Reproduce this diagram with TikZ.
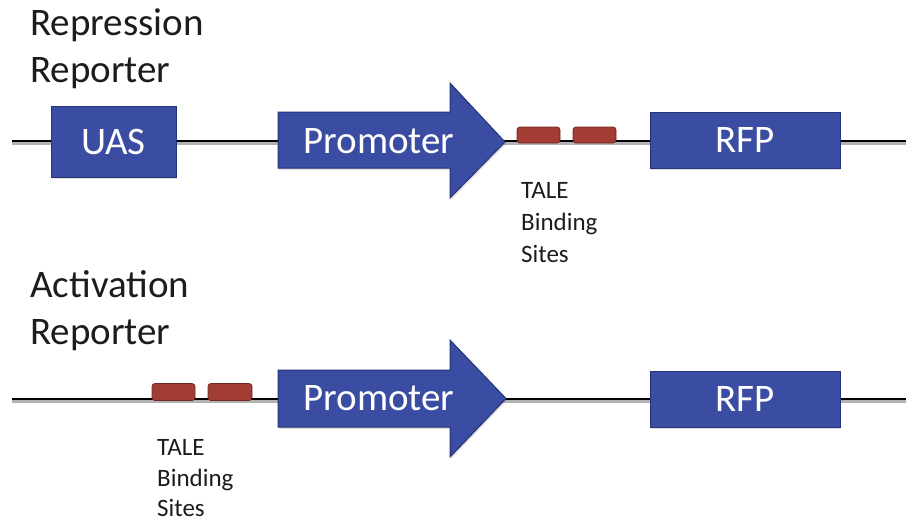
\documentclass[tikz,border=0pt]{standalone}
\usepackage{fontspec}
\setmainfont{Carlito}
\usetikzlibrary{shadows}
\definecolor{geneblue}{RGB}{58,77,163}
\definecolor{geneedge}{RGB}{36,50,118}
\definecolor{sitered}{RGB}{163,60,50}
\definecolor{siteedge}{RGB}{112,40,34}
\definecolor{titlegray}{RGB}{28,28,28}
\tikzset{
  dna/.style={line width=2.6pt, black},
  dnashade/.style={line width=2.4pt, black!30},
  genebox/.style={draw=geneedge, line width=1pt, fill=geneblue, inner sep=0pt,
    drop shadow={shadow xshift=1pt, shadow yshift=-2pt, opacity=0.25}},
  genelabel/.style={text=white, font=\fontsize{39}{47}\selectfont, inner sep=0pt},
  sitebox/.style={draw=siteedge, line width=0.8pt, fill=sitered, rounded corners=3pt},
  promarrow/.style={draw=geneedge, line width=1pt, fill=geneblue,
    drop shadow={shadow xshift=1pt, shadow yshift=-2pt, opacity=0.25}},
  title/.style={anchor=base west, inner sep=0pt, text=titlegray, font=\fontsize{39}{47}\selectfont},
  small/.style={anchor=base west, inner sep=0pt, text=titlegray, font=\fontsize{25}{32}\selectfont},
}
\begin{document}
\begin{tikzpicture}[x=1pt, y=-1pt]
\useasboundingbox (0,0) rectangle (908,525);

% ---------- repression reporter ----------
\node[title] (rtitleA) at (30,35) {Repression};
\node[title] (rtitleB) at (30,82) {Reporter};

\coordinate (rL) at (12,141);
\coordinate (rR) at (906,141);
\draw[dnashade] ([yshift=-2.5pt]rL) -- ([yshift=-2.5pt]rR);
\draw[dna] (rL) -- (rR);

\node[genebox, minimum width=125pt, minimum height=71pt] (uas) at (113.5,141.5) {};
\node[genelabel] (uastext) at (uas.center) {UAS};

\path[promarrow] (278,112) -- (450,112) -- (450,83) -- (505,142)
  -- (450,198) -- (450,168) -- (278,168) -- cycle;
\node[genelabel] (promA) at (379,141) {Promoter};

\node[sitebox, minimum width=43pt, minimum height=16pt] (siteA1) at (538.5,135) {};
\node[sitebox, minimum width=43pt, minimum height=16pt] (siteA2) at (594.5,135) {};

\node[genebox, minimum width=190pt, minimum height=56pt] (rfpA) at (745,140) {};
\node[genelabel] (rfpAtext) at (rfpA.center) {RFP};

\node[small] (taleA1) at (521,198) {TALE};
\node[small] (taleA2) at (521,230) {Binding};
\node[small] (taleA3) at (521,262) {Sites};

% ---------- activation reporter ----------
\node[title] (atitleA) at (30,297) {Activation};
\node[title] (atitleB) at (30,344) {Reporter};

\coordinate (aL) at (12,399);
\coordinate (aR) at (906,399);
\draw[dnashade] ([yshift=-2.5pt]aL) -- ([yshift=-2.5pt]aR);
\draw[dna] (aL) -- (aR);

\node[sitebox, minimum width=43pt, minimum height=17pt] (siteB1) at (173.5,392) {};
\node[sitebox, minimum width=44pt, minimum height=17pt] (siteB2) at (230,392) {};

\path[promarrow] (278,370) -- (450,370) -- (450,340) -- (506,398.5)
  -- (450,457) -- (450,427) -- (278,427) -- cycle;
\node[genelabel] (promB) at (379,398.5) {Promoter};

\node[genebox, minimum width=190pt, minimum height=56pt] (rfpB) at (745,399) {};
\node[genelabel] (rfpBtext) at (rfpB.center) {RFP};

\node[small] (taleB1) at (157,455) {TALE};
\node[small] (taleB2) at (157,486) {Binding};
\node[small] (taleB3) at (157,516) {Sites};
\end{tikzpicture}
\end{document}
